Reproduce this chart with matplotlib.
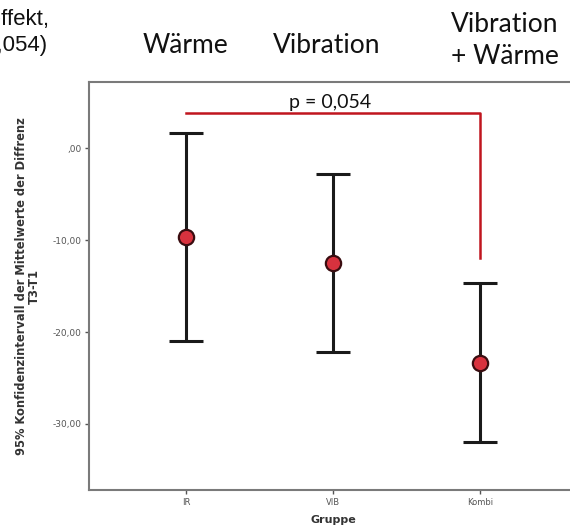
import numpy as np
import matplotlib
matplotlib.use("Agg")
from matplotlib import pyplot as plt

groups = ["IR", "VIB", "Kombi"]
means = [-9.7, -12.5, -23.4]
upper = [1.7, -2.8, -14.7]
lower = [-21.0, -22.2, -32.0]
yticks = [0, -10, -20, -30]
ytick_labels = [",00", "-10,00", "-20,00", "-30,00"]
headers = ["Wärme", "Vibration", "Vibration\n+ Wärme"]
p_text = "p = 0,054"
bracket_top = 3.8
bracket_end = -11.9

fig = plt.figure(figsize=(5.7, 5.29), dpi=100)
fig.patch.set_facecolor("white")
ax = fig.add_axes([0.156, 0.0737, 0.856, 0.771])

x = np.arange(len(groups))
m = np.array(means)
err = np.array([m - np.array(lower), np.array(upper) - m])
ax.errorbar(x, m, yerr=err, fmt="none", ecolor="#1a1a1a", elinewidth=2.2,
            capsize=12.5, capthick=2.2, zorder=2)
ax.plot(x, m, "o", markersize=11, markerfacecolor="#d8323e",
        markeredgecolor="#3a0d10", markeredgewidth=1.6, zorder=3)

# significance bracket
ax.plot([x[0], x[2], x[2]], [bracket_top, bracket_top, bracket_end],
        color="#c0151e", lw=1.8, zorder=1)
ax.text((x[0] + x[2]) / 2 - 0.02, bracket_top + 0.3, p_text, ha="center",
        va="bottom", fontsize=14, family="Lato", color="#111")

ax.set_xlim(-0.66, 2.66)
ax.set_ylim(-37.2, 7.2)
ax.set_xticks(x)
ax.set_xticklabels(groups, fontsize=6, color="#555")
ax.set_yticks(yticks)
ax.set_yticklabels(ytick_labels, fontsize=6.5, color="#555")
ax.tick_params(direction="out", length=3, width=1, color="#555", pad=2.5)
for s in ax.spines.values():
    s.set_color("#7a7a7a")
    s.set_linewidth(1.5)

ax.set_xlabel("Gruppe", fontsize=8, fontweight="bold", color="#333", labelpad=6)
ax.set_ylabel("95% Konfidenzintervall der Mittelwerte der Diffrenz\nT3-T1",
              fontsize=8.3, fontweight="bold", color="#333", labelpad=8,
              linespacing=1.0)

# headers above the plot
hx = [185, 327, 505]
for i, h in enumerate(headers):
    yy = 46 if "\n" not in h else 41
    fig.text(hx[i] / 570, 1 - yy / 529, h, ha="center", va="center",
             fontsize=19, family="Lato", color="#111", linespacing=1.35)

# partly cut-off annotation at the left edge, as in the original slide
fig.text(49 / 570, 1 - 20 / 529, "Haupteffekt,", ha="right", va="center",
         fontsize=16, family="Liberation Sans", color="#111")
fig.text(47 / 570, 1 - 46 / 529, "(p = 0,054)", ha="right", va="center",
         fontsize=16, family="Liberation Sans", color="#111")

fig.savefig("out.png", dpi=100, facecolor="white")
